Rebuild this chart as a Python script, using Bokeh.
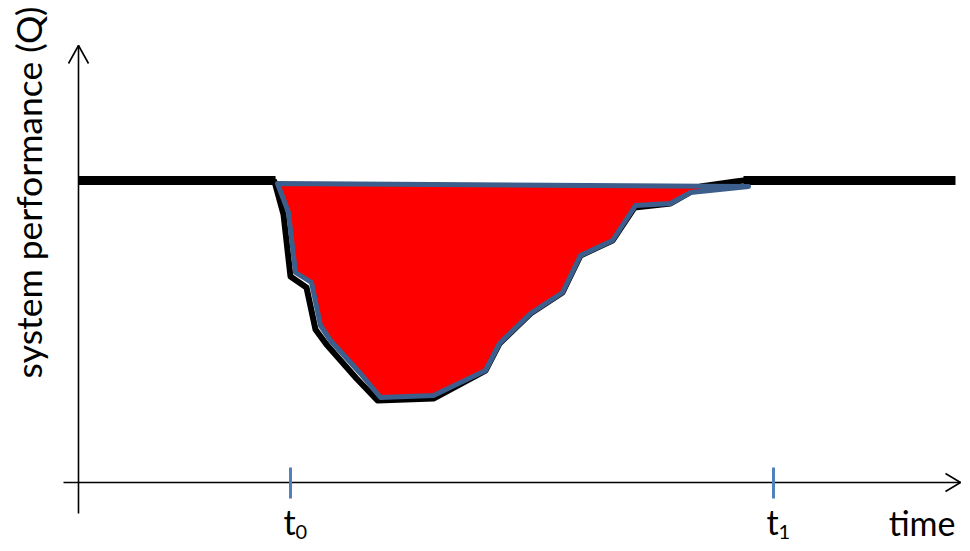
from math import pi
from bokeh.plotting import figure
from bokeh.models import Range1d, ColumnDataSource
from bokeh.core.properties import value
from bokeh.embed import file_html
from bokeh.resources import INLINE

# Conceptual resilience curve, in drawing units (x = time, y = screen-down performance)
# performance drop curve (outline of red area)
curve_t = [277, 288, 295, 311, 320, 330, 360, 380, 433, 485, 499, 530, 562, 580, 612, 635, 670, 690, 748]
curve_q = [183, 212, 272, 282, 325, 340, 373, 397, 395, 370, 343, 313, 292, 255, 240, 205, 203, 192, 186]
# black underlying performance curve (slightly offset, visible as shadow)
shadow_t = [274, 283, 290, 306, 315, 326, 356, 377, 433, 485, 499, 530, 562, 580, 612, 634, 670, 700, 735, 743]
shadow_q = [181, 214, 276, 287, 329, 344, 378, 400, 398, 370, 343, 313, 292, 255, 240, 207, 203, 186, 181, 180]
# nominal performance level before and after
nominal_q = 180
pre_t = [78, 275]
post_t = [743, 955]
# time markers
tick_t = [290, 773]
tick_labels = ["t", "t"]
tick_subs = ["0", "1"]

p = figure(width=962, height=543, output_backend="svg", toolbar_location=None,
           x_range=Range1d(0, 962), y_range=Range1d(543, 0), min_border=0)
p.axis.visible = False
p.grid.visible = False
p.outline_line_color = None
p.background_fill_color = "white"
p.border_fill_color = "white"

# axes with open arrowheads
p.line([78, 78], [513, 45], line_color="black", line_width=1.6)
p.line([68, 78, 88], [63, 45, 63], line_color="black", line_width=1.6)
p.line([63, 960], [482, 482], line_color="black", line_width=1.6)
p.line([945, 960, 945], [473, 482, 491], line_color="black", line_width=1.6)

# time ticks
p.segment(x0=tick_t, x1=tick_t, y0=[467] * 2, y1=[498] * 2, line_color="#4F81BD", line_width=3)

# nominal level bars
p.line(pre_t, [nominal_q] * 2, line_color="black", line_width=9)
p.line(post_t, [nominal_q] * 2, line_color="black", line_width=9)

# shadow curve
p.line(shadow_t, shadow_q, line_color="black", line_width=6, line_join="round", line_cap="round")

# red area
p.patch(curve_t, curve_q, fill_color="#FF0000", line_color="#3B5E8C", line_width=5, line_join="round")

font = value("Lato")
# tick labels
src_t = ColumnDataSource(dict(x=[t - 7 for t in tick_t], y=[521] * 2, text=tick_labels))
p.text(x="x", y="y", text="text", source=src_t, text_font=font, text_font_size="34px",
       text_color="black", text_baseline="middle", text_align="left")
src_s = ColumnDataSource(dict(x=[t + 5 for t in tick_t], y=[531] * 2, text=tick_subs))
p.text(x="x", y="y", text="text", source=src_s, text_font=font, text_font_size="20px",
       text_color="black", text_baseline="middle", text_align="left")

p.text(x=[955], y=[521.5], text=["time"], text_font=font, text_font_size="34px",
       text_color="black", text_baseline="middle", text_align="right")

p.text(x=[28], y=[192], text=["system performance (Q)"], angle=[pi / 2], text_font=font,
       text_font_size="35.5px", text_color="black", text_baseline="middle", text_align="center")

open("out.html", "w").write(file_html(p, INLINE))
